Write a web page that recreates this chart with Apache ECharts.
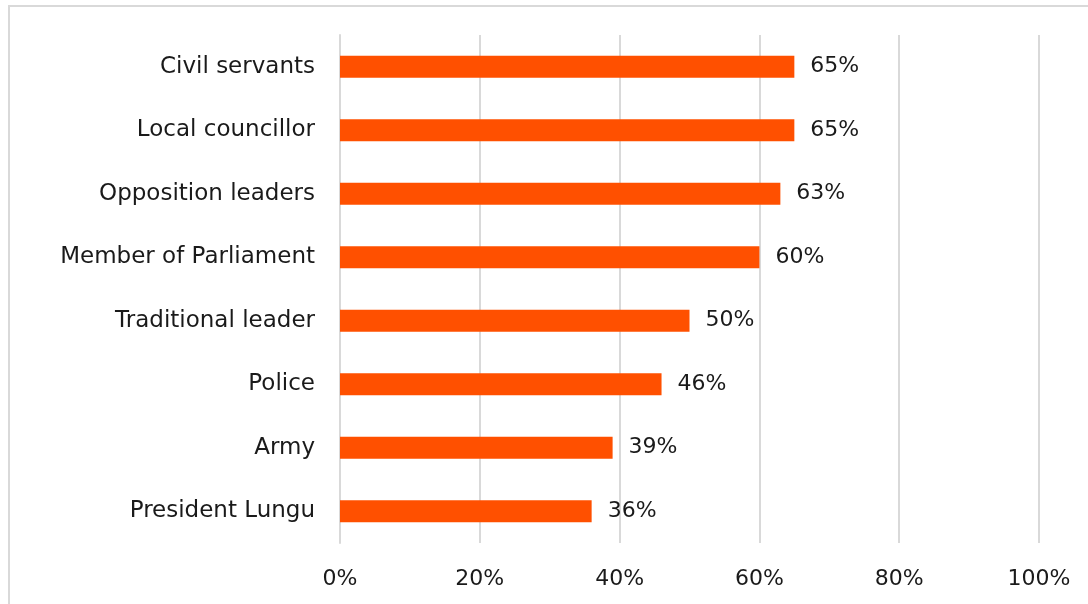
<!DOCTYPE html>
<html>
<head>
<meta charset="utf-8">
<script src="https://cdn.jsdelivr.net/npm/echarts@6/dist/echarts.min.js"></script>
<style>
  html, body { margin: 0; padding: 0; background: #fff; }
  #chart { width: 1088px; height: 604px; }
</style>
</head>
<body>
<div id="chart"></div>
<script>
// Share of respondents who trust each institution (top to bottom)
const categories = [
  'Civil servants',
  'Local councillor',
  'Opposition leaders',
  'Member of Parliament',
  'Traditional leader',
  'Police',
  'Army',
  'President Lungu'
];
const values = [65, 65, 63, 60, 50, 46, 39, 36];
const xTicks = [0, 20, 40, 60, 80, 100];

const FONT = '"DejaVu Sans", sans-serif';
const chart = echarts.init(document.getElementById('chart'), null, { renderer: 'canvas' });

chart.setOption({
  backgroundColor: '#ffffff',
  animation: false,
  graphic: [{
    type: 'rect',
    shape: { x: 9, y: 6, width: 1100, height: 620 },
    style: { fill: 'none', stroke: '#d9d9d9', lineWidth: 2 },
    silent: true
  }],
  grid: { left: 340, right: 49, top: 35, bottom: 61, containLabel: false },
  xAxis: {
    type: 'value',
    min: xTicks[0],
    max: xTicks[xTicks.length - 1],
    interval: 20,
    axisLine: { show: false },
    axisTick: { show: false },
    splitLine: { show: true, lineStyle: { color: '#d9d9d9', width: 2 } },
    axisLabel: {
      formatter: v => v + '%',
      color: '#1a1a1a',
      fontFamily: FONT,
      fontSize: 22,
      margin: 25
    }
  },
  yAxis: {
    type: 'category',
    data: categories,
    inverse: true,
    axisLine: { show: true, lineStyle: { color: '#d9d9d9', width: 2 } },
    axisTick: { show: false },
    axisLabel: {
      color: '#1a1a1a',
      fontFamily: FONT,
      fontSize: 23,
      margin: 25,
      padding: [4, 0, 0, 0]
    }
  },
  series: [{
    type: 'bar',
    data: values,
    barWidth: 22,
    itemStyle: { color: '#ff5000' },
    label: {
      show: true,
      position: 'right',
      distance: 16,
      padding: [4, 0, 0, 0],
      formatter: p => p.value + '%',
      color: '#1a1a1a',
      fontFamily: FONT,
      fontSize: 22
    }
  }]
});
</script>
</body>
</html>
